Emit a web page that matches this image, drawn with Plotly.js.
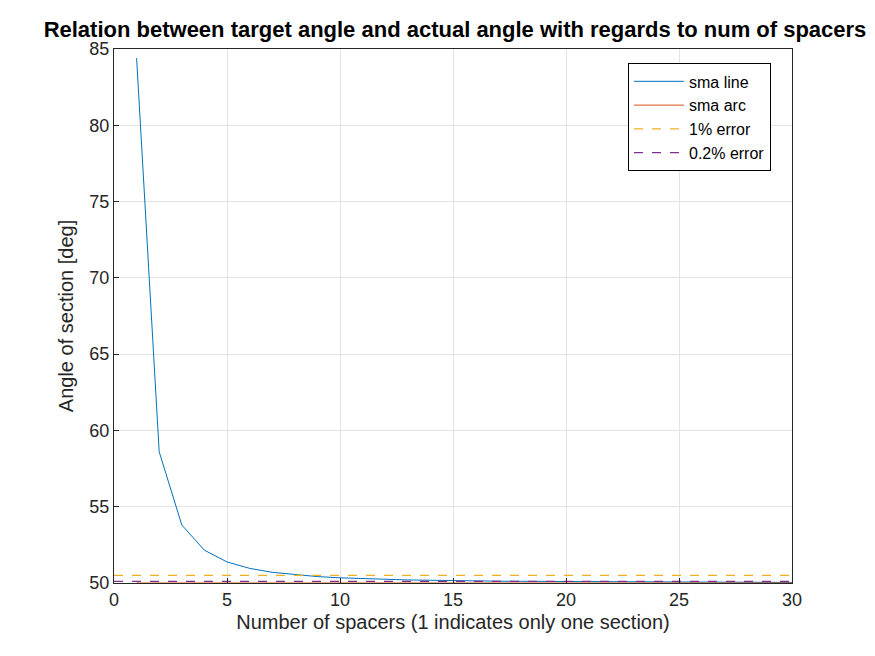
<!DOCTYPE html>
<html>
<head>
<meta charset="utf-8">
<script src="https://cdn.plot.ly/plotly-3.0.1.min.js"></script>
<style>body{margin:0;background:#fff}#chart{width:875px;height:656px}</style>
</head>
<body>
<div id="chart"></div>
<script>
// number of spacers
const spacers = [1,2,3,4,5,6,7,8,9,10,11,12,13,14,15,16,17,18,19,20,21,22,23,24,25,26,27,28,29,30];
// angle
const smaLine = [84.4,58.6,53.8,52.15,51.38,50.96,50.70,50.54,50.42,50.34,50.28,50.24,50.20,50.18,50.15,
  50.13,50.12,50.11,50.10,50.09,50.08,50.07,50.065,50.06,50.055,50.05,50.047,50.044,50.04,50.038];
const smaArc = spacers.map(() => 50);
const errorX = [0, 30];
const err1 = [50.5, 50.5];
const err02 = [50.1, 50.1];

const traces = [
  { x: spacers, y: smaLine, name: "sma line", mode: "lines", line: { color: "#0072BD", width: 1 } },
  { x: spacers, y: smaArc, name: "sma arc", mode: "lines", line: { color: "#D95319", width: 1 } },
  { x: errorX, y: err1, name: "1% error", mode: "lines", line: { color: "#EDB120", width: 1.3, dash: "dash" } },
  { x: errorX, y: err02, name: "0.2% error", mode: "lines", line: { color: "#7E2F8E", width: 1.3, dash: "dash" } },
];

const axisStyle = {
  showgrid: true, gridcolor: "#e3e3e3", zeroline: false,
  showline: true, linecolor: "#262626", linewidth: 1, mirror: true,
  ticks: "inside", ticklen: 5, tickcolor: "#262626",
  tickfont: { family: "Liberation Sans, Arial", size: 18, color: "#262626" },
};

const layout = {
  width: 875, height: 656,
  margin: { l: 114, r: 83, t: 49, b: 73 },
  paper_bgcolor: "#fff", plot_bgcolor: "#fff",
  title: {
    text: "<b>Relation between target angle and actual angle with regards to num of spacers</b>",
    font: { family: "Liberation Sans, Arial", size: 22, color: "#000" },
    x: 0.52, xanchor: "center", y: 0.955, yanchor: "middle",
  },
  xaxis: Object.assign({}, axisStyle, {
    range: [0, 30], tickvals: [0,5,10,15,20,25,30],
    title: { text: "Number of spacers (1 indicates only one section)", standoff: 6,
      font: { family: "Liberation Sans, Arial", size: 20, color: "#262626" } },
  }),
  yaxis: Object.assign({}, axisStyle, {
    range: [50, 85], tickvals: [50,55,60,65,70,75,80,85],
    title: { text: "Angle of section [deg]", standoff: 10,
      font: { family: "Liberation Sans, Arial", size: 20, color: "#262626" } },
  }),
  showlegend: true,
  legend: {
    x: 0.969, xanchor: "right", y: 0.973, yanchor: "top",
    bgcolor: "#fff", bordercolor: "#000", borderwidth: 1,
    font: { family: "Liberation Sans, Arial", size: 16, color: "#000" },
    tracegroupgap: 0, itemwidth: 50,
  },
};

Plotly.newPlot("chart", traces, layout, { displayModeBar: false, staticPlot: true });
</script>
</body>
</html>
